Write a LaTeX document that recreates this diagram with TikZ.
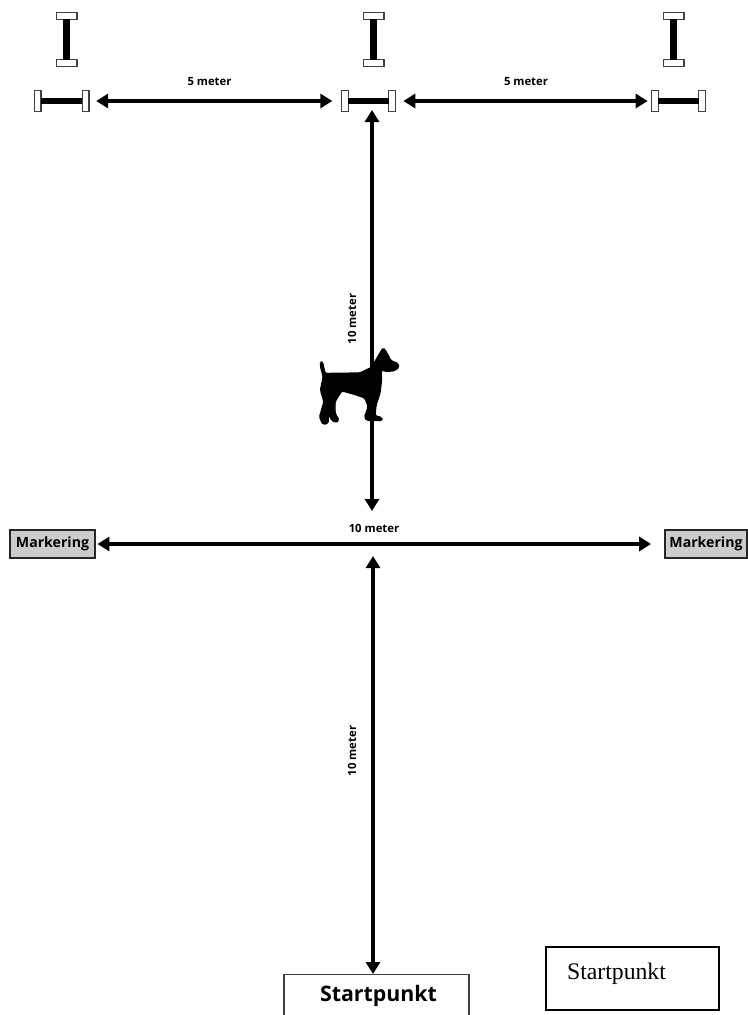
\documentclass[tikz,border=0pt]{standalone}
\usepackage{fontspec}
\setmainfont{Liberation Serif}
\newfontfamily\labelfont{Open Sans}
\usetikzlibrary{arrows.meta}
\tikzset{
  x=0.75pt,y=-0.75pt,
  dim/.style={line width=2.3pt,{Triangle[length=9pt,width=10.5pt]}-{Triangle[length=9pt,width=10.5pt]}},
  bar/.style={draw=black!75,line width=1pt,fill=white,inner sep=0pt,outer sep=0pt,minimum width=#1},
  stem/.style={line width=4.6pt,black},
  dimtext/.style={font=\labelfont\bfseries\fontsize{8.5}{10}\selectfont,inner sep=0pt},
  markbox/.style={draw=black!85,line width=1.4pt,fill=black!20,inner sep=0pt,minimum height=20.5pt,font=\labelfont\bfseries\fontsize{10.6}{12}\selectfont},
}
\newcommand{\vbell}[2]{%
  \node[bar=15.5pt,minimum height=5pt] (#1t) at (#2,16) {};
  \node[bar=15.5pt,minimum height=5pt] (#1b) at (#2,63) {};
  \draw[stem] (#1t.south) -- (#1b.north);
}
\newcommand{\hbell}[3]{%
  \node[bar=5pt,minimum height=15.5pt] (#1l) at (#2,101) {};
  \node[bar=5pt,minimum height=15.5pt] (#1r) at (#3,101) {};
  \draw[stem] (#1l.east) -- (#1r.west);
}
\begin{document}
\begin{tikzpicture}
\useasboundingbox (0,0) rectangle (747,1015);
\vbell{va}{66.5}
\vbell{vb}{373.5}
\vbell{vc}{673.5}
\hbell{ha}{37.5}{85.5}
\hbell{hb}{345}{392}
\hbell{hc}{655}{702}
% boxes
\node[markbox,minimum width=64pt] (ml) at (52.5,544) {Markering};
\node[markbox,minimum width=61pt] (mr) at (706,544) {Markering};
\path[draw=black!75,line width=0.9pt] (284,1015) -- (284,974.5) -- (469,974.5) -- (469,1015);
\coordinate (st) at (373,974);
\node[font=\labelfont\bfseries\fontsize{16}{18}\selectfont,inner sep=0pt] (stl) at (378.5,996) {Startpunkt};
\node[draw=black,line width=1.3pt,minimum width=129.5pt,minimum height=47pt,inner sep=0pt] (sb) at (632.5,978.5) {};
\node[font=\fontsize{17.8}{20}\selectfont,inner sep=0pt] (sbl) at (616.5,974) {Startpunkt};
% junction points
\coordinate (hbb) at (372,110);
\coordinate (mt) at (372,511);
\coordinate (mb) at (373,556);
% connectors
\draw[dim,shorten <=5.5pt,shorten >=7pt] (har.east) -- (hbl.west);
\draw[dim,shorten <=6pt,shorten >=3pt] (hbr.east) -- (hcl.west);
\draw[dim] (hbb) -- (mt);
\draw[dim,shorten <=1pt,shorten >=10pt] (ml.east) -- (mr.west);
\draw[dim] (mb) -- (st);
% dimension labels
\node[dimtext] (l1) at (209.5,82) {5 meter};
\node[dimtext] (l2) at (526,82) {5 meter};
\node[dimtext,rotate=90] (l3) at (352,319) {10 meter};
\node[dimtext] (l4) at (374,528) {10 meter};
\node[dimtext,rotate=90] (l5) at (352,751) {10 meter};
% dog
\filldraw[black,line width=1pt,line join=round,rounded corners=1.2pt] (320.5,362) -- (322.5,362) -- (325,373.5) -- (360,373) -- (371.7,367.3) -- (380,353) -- (383.3,347.8) -- (387,353) -- (390.7,360.7) -- (398,363.5) -- (399,367) -- (395,370.5) -- (387.3,371.5) -- (381,370) -- (381.5,380) -- (380,393) -- (376,405) -- (375,416) -- (381.5,417.3) -- (382.5,420.5) -- (367,420.5) -- (364.5,417.3) -- (368.3,406.7) -- (365,398) -- (356.7,395) -- (341.7,390.7) -- (335,401.7) -- (335,413) -- (339,420.5) -- (335,422.5) -- (330,418) -- (328.3,408) -- (328.3,423) -- (323,424.5) -- (319.5,417) -- (324,401.7) -- (320.5,390) -- (323.3,376.7) -- (320.5,366.7) -- cycle;
\end{tikzpicture}
\end{document}
